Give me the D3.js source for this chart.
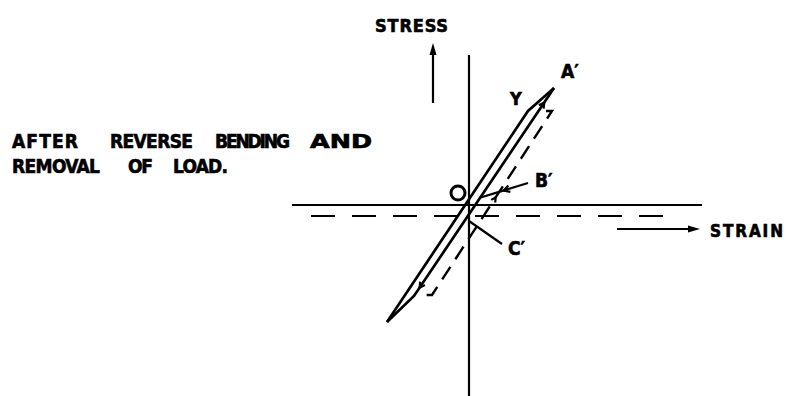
<!DOCTYPE html>
<html>
<head>
<meta charset="utf-8">
<script src="https://cdn.jsdelivr.net/npm/d3@7"></script>
<style>
  html, body { margin: 0; padding: 0; background: #fff; }
  svg { display: block; }
</style>
</head>
<body>
<div id="chart"></div>
<script>
/*
 * Stress–strain sketch after reverse bending and removal of load.
 * Units are arbitrary strain / stress; origin where the axes cross.
 */

// axes extents (strain, stress)
const strainAxis = [-4.425, 5.825];
const stressAxis = [-4.775, 3.75];
const offsetStrainAxis = { stress: -0.275, from: -3.95, to: 5.275 };

// loading / unloading branches of the loop
const loadingPath   = [[-2.05, -2.925], [1.475, 2.35], [2.125, 2.925]];
const unloadingPath = [[2.125, 2.925], [-1.375, -2.275], [-2.05, -2.925]];
// loop after removal of load (dashed)
const residualPath  = [[1.925, 2.35], [2.075, 2.35], [-0.925, -2.25], [-1.15, -2.25]];

// origin marker
const originMark = [-0.275, 0.3];

// leader lines for B' and C'
const leaderB = [[1.475, 0.55], [0.25, 0.175]];
const leaderC = [[0, -0.4], [0.825, -0.975]];

// direction arrows next to the axis titles
const stressArrow = [[-0.9, 2.55], [-0.9, 4.05]];
const strainArrow = [[3.7, -0.6], [5.775, -0.6]];

const pointLabels = ["A′", "Y", "B′", "C′"];
const axisTitles = ["STRESS", "STRAIN"];
const noteLines = [
  ["AFTER", "REVERSE", "BENDING", "AND"],
  ["REMOVAL", "OF", "LOAD."]
];

const W = 787, H = 396;
const FONT = "'DejaVu Sans Condensed', 'DejaVu Sans', sans-serif";

const svg = d3.select('#chart').append('svg')
  .attr('width', W).attr('height', H)
  .attr('viewBox', `0 0 ${W} ${H}`);

const x = d3.scaleLinear().domain(strainAxis).range([292, 702]);
const y = d3.scaleLinear().domain(stressAxis).range([396, 55]);

const line = d3.line().x(d => x(d[0])).y(d => y(d[1]));

// Axes
svg.append('line')
  .attr('x1', x(strainAxis[0])).attr('x2', x(strainAxis[1]))
  .attr('y1', y(0)).attr('y2', y(0))
  .attr('stroke', '#000').attr('stroke-width', 2.2);
svg.append('line')
  .attr('x1', x(0)).attr('x2', x(0))
  .attr('y1', y(stressAxis[1])).attr('y2', y(stressAxis[0]))
  .attr('stroke', '#000').attr('stroke-width', 2.2);

// Shifted strain axis (dashed)
svg.append('line')
  .attr('x1', x(offsetStrainAxis.from)).attr('x2', x(offsetStrainAxis.to))
  .attr('y1', y(offsetStrainAxis.stress)).attr('y2', y(offsetStrainAxis.stress))
  .attr('stroke', '#000').attr('stroke-width', 2.2)
  .attr('stroke-dasharray', '24,17');

// Loop
[loadingPath, unloadingPath].forEach(p => {
  svg.append('path').datum(p).attr('d', line)
    .attr('fill', 'none').attr('stroke', '#000')
    .attr('stroke-width', 2.7).attr('stroke-linejoin', 'miter');
});
svg.append('path').datum(residualPath).attr('d', line)
  .attr('fill', 'none').attr('stroke', '#000')
  .attr('stroke-width', 2.4).attr('stroke-dasharray', '15,9');

// Origin circle
svg.append('circle')
  .attr('cx', x(originMark[0])).attr('cy', y(originMark[1]))
  .attr('r', 7)
  .attr('fill', 'none').attr('stroke', '#000').attr('stroke-width', 3);

// Leaders
[leaderB, leaderC].forEach(p => {
  svg.append('path').datum(p).attr('d', line)
    .attr('fill', 'none').attr('stroke', '#000').attr('stroke-width', 2.2);
});

// small open chevron at fraction t along segment a->b, pointing toward b
function chevron(a, b, t, size) {
  const ax = x(a[0]), ay = y(a[1]), bx = x(b[0]), by = y(b[1]);
  const px = ax + (bx - ax) * t, py = ay + (by - ay) * t;
  const ang = Math.atan2(by - ay, bx - ax);
  const spread = 0.5;
  const p1 = [px - size * Math.cos(ang - spread), py - size * Math.sin(ang - spread)];
  const p2 = [px - size * Math.cos(ang + spread), py - size * Math.sin(ang + spread)];
  svg.append('path')
    .attr('d', `M${p1}L${px},${py}L${p2}`)
    .attr('fill', 'none').attr('stroke', '#000').attr('stroke-width', 2.2);
}
chevron(leaderB[0], leaderB[1], 0.5, 7);
chevron(unloadingPath[1], unloadingPath[0], 0.93, 6);
chevron(unloadingPath[0], unloadingPath[1], 0.96, 6);
chevron(residualPath[2], residualPath[1], 0.53, 5);

// filled arrow
function arrow(p) {
  const ax = x(p[0][0]), ay = y(p[0][1]), bx = x(p[1][0]), by = y(p[1][1]);
  const ang = Math.atan2(by - ay, bx - ax);
  const L = 12, hw = 3.5;
  const baseX = bx - L * Math.cos(ang), baseY = by - L * Math.sin(ang);
  svg.append('line')
    .attr('x1', ax).attr('y1', ay).attr('x2', baseX).attr('y2', baseY)
    .attr('stroke', '#000').attr('stroke-width', 2.2);
  const nx = -Math.sin(ang) * hw, ny = Math.cos(ang) * hw;
  svg.append('path')
    .attr('d', `M${bx},${by}L${baseX + nx},${baseY + ny}L${baseX - nx},${baseY - ny}Z`)
    .attr('fill', '#000');
}
arrow(stressArrow);
arrow(strainArrow);

// Text helper
function label(txt, px, py, size, width, adjust) {
  const t = svg.append('text')
    .attr('x', px).attr('y', py)
    .attr('font-family', FONT).attr('font-weight', 'bold')
    .attr('font-size', size).attr('fill', '#000')
    .attr('stroke', '#000').attr('stroke-width', 0.6)
    .text(txt);
  if (width) t.attr('textLength', width).attr('lengthAdjust', adjust || 'spacing');
  return t;
}

// axis titles
label(axisTitles[0], 375, 32, 18, 73);
label(axisTitles[1], 710, 237, 17, 73);

// point labels
const labelPos = [[561, 78, 19], [510, 105, 18], [535, 187, 19], [508, 255, 19]];
pointLabels.forEach((t, i) => label(t, labelPos[i][0], labelPos[i][1], labelPos[i][2]));

// note, word by word
const wordX = [[12, 110, 215, 310], [12, 128, 173]];
const wordW = [[66, 83, 75, 62], [88, 25, 55]];
const lineY = [148, 173];
noteLines.forEach((words, li) => {
  words.forEach((w, wi) => {
    const stretch = w === 'AND' ? 'spacingAndGlyphs' : 'spacing';
    label(w, wordX[li][wi], lineY[li], 19, wordW[li][wi], stretch);
  });
});
</script>
</body>
</html>
